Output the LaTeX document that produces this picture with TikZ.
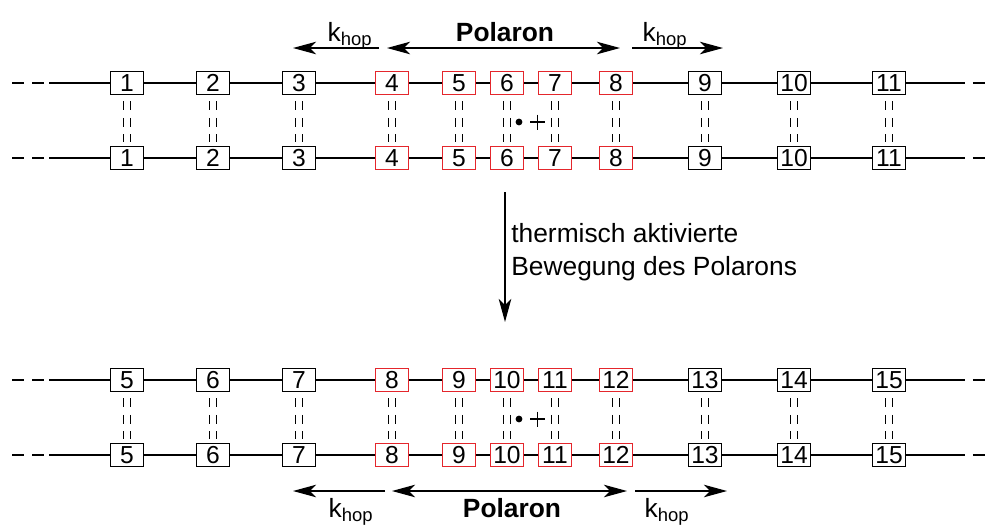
\documentclass[tikz,border=0pt]{standalone}
\usepackage{fontspec}
\setmainfont{Liberation Sans}
\usetikzlibrary{arrows.meta}

\definecolor{polred}{RGB}{228,38,44}

\tikzset{
  site/.style={draw, fill=white, line width=0.75pt, minimum width=0.65cm,
    minimum height=0.47cm, inner sep=0pt, font=\fontsize{14}{16}\selectfont},
  polsite/.style={site, draw=polred},
  chain/.style={line width=0.75pt},
  chainend/.style={line width=0.75pt, dash pattern=on 0.24cm off 0.16cm},
  bond/.style={line width=0.8pt, dash pattern=on 0.18cm off 0.15cm,
    shorten <=0.12cm, shorten >=0.08cm},
  hop/.style={line width=0.75pt, -{Stealth[length=0.46cm,width=0.25cm,inset=0.12cm]}},
  hopboth/.style={line width=0.75pt,
    {Stealth[length=0.46cm,width=0.25cm,inset=0.12cm]}-{Stealth[length=0.46cm,width=0.25cm,inset=0.12cm]}},
  lbl/.style={font=\fontsize{15}{17}\selectfont, inner sep=0pt},
}

\begin{document}
\begin{tikzpicture}[x=0.02cm,y=-0.02cm]
\useasboundingbox (0,0) rectangle (985,525);

% two double chains: u = before, l = after the hop
\foreach \d/\yt/\off in {u/83/0,l/380/4}{
  \pgfmathtruncatemacro\yb{\yt+75}
  \pgfmathtruncatemacro\ym{\yt+39}
  \foreach \x [count=\i] in {127,213,299,392,459,507,555,616,705,794,889}{
    \pgfmathtruncatemacro\n{\i+\off}
    \ifnum\i<4 \def\st{site}\else\ifnum\i>8 \def\st{site}\else\def\st{polsite}\fi\fi
    \node[\st] (\d t\i) at (\x,\yt) {\n};
    \node[\st] (\d b\i) at (\x,\yb) {\n};
    \draw[bond] ([xshift=-0.075cm]\d t\i.south) -- ([xshift=-0.075cm]\d b\i.north);
    \draw[bond] ([xshift=0.075cm]\d t\i.south) -- ([xshift=0.075cm]\d b\i.north);
  }
  \foreach \r in {t,b}{
    \foreach \i [remember=\i as \j (initially 1)] in {2,...,11}
      \draw[chain] (\d\r\j) -- (\d\r\i);
    \path (\d\r1.west) ++(-61,0) coordinate (\d\r Ls) ++(-37,0) coordinate (\d\r L);
    \path (\d\r11.east) ++(47,0) coordinate (\d\r Rs) ++(33,0) coordinate (\d\r R);
    \draw[chain] (\d\r Ls) -- (\d\r1);
    \draw[chainend] (\d\r L) -- (\d\r Ls);
    \draw[chain] (\d\r11) -- (\d\r Rs);
    \draw[chainend] (\d\r Rs) -- (\d\r R);
  }
  % charge and electron between sites 6 and 7
  \fill (519,\ym) circle (3.4);
  \draw[line width=0.8pt] (530,\ym) -- (545,\ym) (537.5,\ym-7.5) -- (537.5,\ym+7.5);
}

% hopping and polaron extent, top
\coordinate (hul0) at (379,48); \coordinate (hul1) at (293,48);
\coordinate (pu0) at (387,48);  \coordinate (pu1) at (620,48);
\coordinate (hur0) at (632,48); \coordinate (hur1) at (723,48);
\draw[hop] (hul0) -- (hul1);
\draw[hopboth] (pu0) -- (pu1);
\draw[hop] (hur0) -- (hur1);
\node[lbl, anchor=base] (khul) at (350,41) {k\textsubscript{hop}};
\node[lbl, anchor=base, font=\fontsize{15}{17}\selectfont\bfseries] (polu) at (505,41) {Polaron};
\node[lbl, anchor=base] (khur) at (665,41) {k\textsubscript{hop}};

% thermally activated step
\coordinate (mv0) at (505,192); \coordinate (mv1) at (505,322);
\draw[hop] (mv0) -- (mv1);
\node[lbl, anchor=west, align=left, font=\fontsize{15}{19}\selectfont] (move) at (511,252)
  {thermisch aktivierte\\Bewegung des Polarons};

% hopping and polaron extent, bottom
\coordinate (hll0) at (385,491); \coordinate (hll1) at (293,491);
\coordinate (pl0) at (392,491);  \coordinate (pl1) at (627,491);
\coordinate (hlr0) at (635,491); \coordinate (hlr1) at (727,491);
\draw[hop] (hll0) -- (hll1);
\draw[hopboth] (pl0) -- (pl1);
\draw[hop] (hlr0) -- (hlr1);
\node[lbl, anchor=base] (khll) at (351,517) {k\textsubscript{hop}};
\node[lbl, anchor=base, font=\fontsize{15}{17}\selectfont\bfseries] (poll) at (512,517) {Polaron};
\node[lbl, anchor=base] (khlr) at (667,517) {k\textsubscript{hop}};
\end{tikzpicture}
\end{document}
